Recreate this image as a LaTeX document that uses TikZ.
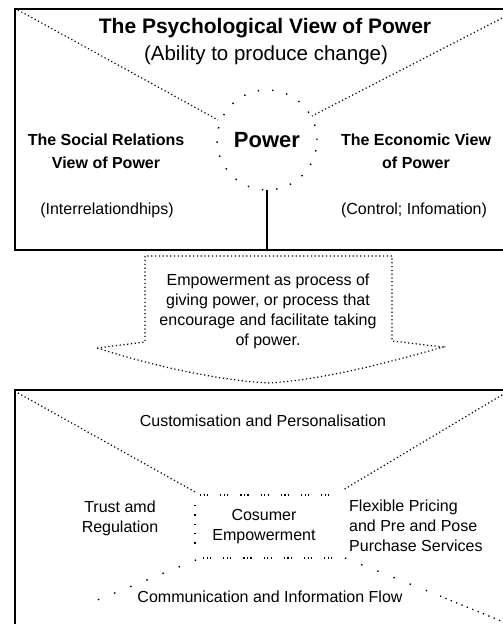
\documentclass[tikz,border=0pt]{standalone}
\usepackage{fontspec}
\setmainfont{Liberation Sans}
\begin{document}
\begin{tikzpicture}[x=1pt,y=-1pt,
  boxframe/.style={draw, line width=2.2pt, rectangle, inner sep=0pt, anchor=north west},
  dotline/.style={line width=1.2pt, dash pattern=on 1.2pt off 2.6pt},
  sparsedots/.style={line width=1.4pt, dash pattern=on 1.4pt off 16pt},
  tripledots/.style={line width=1.2pt, dash pattern=on 1.2pt off 2.3pt on 1.2pt off 2.3pt on 1.2pt off 12pt},
  circdots/.style={line width=1.4pt, dash pattern=on 1.4pt off 13pt},
  txt/.style={inner sep=0pt, align=center, font=\fontsize{16}{20}\selectfont},
  boldtxt/.style={inner sep=0pt, align=center, font=\fontsize{16}{23}\selectfont\bfseries},
  titletxt/.style={inner sep=0pt, font=\fontsize{21}{24}\selectfont\bfseries},
  subtxt/.style={inner sep=0pt, font=\fontsize{20.5}{24}\selectfont},
  powertxt/.style={circle, minimum size=100pt, inner sep=0pt, font=\fontsize{22}{24}\selectfont\bfseries}
]
\clip (0,0) rectangle (503,624);
\fill[white] (0,0) rectangle (503,624);

% ---------- top box ----------
\node[boxframe, minimum width=526pt, minimum height=241pt] (topbox) at (14,8) {};
\node[titletxt] (title) at (265,28) {The Psychological View of Power};
\node[subtxt] (sub) at (266,55) {(Ability to produce change)};
\node[powertxt] (pc) at (267,140) {Power};
\draw[circdots] (pc.center) circle (50pt);

\coordinate (tlA) at (18,10);
\coordinate (tlB) at (218,120);
\coordinate (trA) at (512,13);
\coordinate (trB) at (312,116);
\draw[dotline] (tlA) -- (tlB);
\draw[dotline] (trA) -- (trB);

\node[boldtxt] (social) at (106,151) {The Social Relations\\View of Power};
\node[boldtxt] (econ) at (416,151) {The Economic View\\of Power};
\node[txt] (inter) at (107,210) {(Interrelationdhips)};
\node[txt] (ctrl) at (414,210) {(Control; Infomation)};

\draw[line width=1.3pt] (pc.south) -- (pc.south |- topbox.south);

% ---------- arrow ----------
\coordinate (a1) at (97,348);
\coordinate (a2) at (145,342);
\coordinate (a3) at (145,256);
\coordinate (a4) at (392,256);
\coordinate (a5) at (392,341);
\coordinate (a6) at (443,347);
\coordinate (a7) at (268,383);
\draw[dotline] (a1) -- (a2) -- (a3) -- (a4) -- (a5) -- (a6)
  .. controls (380,365) and (320,380) .. (a7)
  .. controls (215,380) and (150,365) .. (a1);
\node[txt] (emp) at (268,311) {Empowerment as process of\\giving power, or process that\\encourage and facilitate taking\\of power.};

% ---------- bottom box ----------
\node[boxframe, minimum width=526pt, minimum height=320pt] (botbox) at (14,389) {};

\coordinate (blA) at (18,393);
\coordinate (blB) at (197,493);
\coordinate (brA) at (512,389);
\coordinate (brB) at (343,490);
\draw[dotline] (blA) -- (blB);
\draw[dotline] (brA) -- (brB);

\coordinate (i1) at (200,495);
\coordinate (i2) at (330,495);
\coordinate (i3) at (195,505);
\coordinate (i4) at (195,545);
\coordinate (i5) at (203,558);
\coordinate (i6) at (336,558);
\draw[tripledots] (i1) -- (i2);
\draw[line width=1.3pt, dash pattern=on 1.3pt off 8pt] (i3) -- (i4);
\draw[tripledots] (i5) -- (i6);

\coordinate (llA) at (196,560);
\coordinate (llB) at (95,601);
\draw[sparsedots] (llA) -- (llB);
\coordinate (lrA) at (345,558);
\coordinate (lrB) at (440,596);
\coordinate (lrC) at (506,623);
\draw[sparsedots] (lrA) -- (lrB);
\draw[line width=1.3pt, dash pattern=on 1.3pt off 4.5pt] (lrB) -- (lrC);

\node[txt] (cust) at (263,421) {Customisation and Personalisation};
\node[txt] (trust) at (120,518) {Trust amd\\Regulation};
\node[txt] (cos) at (264,527) {Cosumer\\Empowerment};
\node[txt, align=left, anchor=west] (flex) at (349,526) {Flexible Pricing\\and Pre and Pose\\Purchase Services};
\node[txt] (comm) at (270,597) {Communication and Information Flow};
\end{tikzpicture}
\end{document}
